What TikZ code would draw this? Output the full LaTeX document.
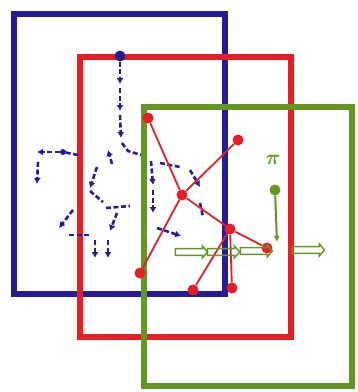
\documentclass[tikz,border=0pt]{standalone}
\usepackage{amsmath}
\usepackage{tikz}
\usetikzlibrary{arrows.meta, shapes.arrows}

\definecolor{inkblue}{RGB}{38,28,150}
\definecolor{inkred}{RGB}{232,30,36}
\definecolor{inkgreen}{RGB}{100,150,35}

\begin{document}
\begin{tikzpicture}[
  x=1pt, y=-1pt,
  frame/.style={line width=6pt, line join=miter},
  dot/.style={circle, fill=#1, inner sep=0pt, minimum size=11pt},
  scrib/.style={inkblue, line width=2.6pt, dash pattern=on 5pt off 2.5pt},
  scribarrow/.style={scrib, -{Latex[length=6pt, width=7pt]}},
  edge/.style={inkred, line width=1.8pt},
  hollow/.style={single arrow, draw=inkgreen, line width=1.4pt, inner xsep=0pt,
                 inner ysep=2.6pt, minimum height=32pt, minimum width=12pt,
                 single arrow head extend=2.5pt, single arrow tip angle=100},
]
\useasboundingbox (0,0) rectangle (358,392);

% Frames
\draw[frame, inkblue] (14,14) rectangle (225,294);
\draw[frame, inkred] (80,57) rectangle (291,337);
\draw[frame, inkgreen] (144,107) rectangle (352,386);

% Blue scribble tree
\node[dot=inkblue] (root) at (120,56) {};
\draw[scribarrow] (root) -- (120,84);
\draw[scribarrow] (120,88) -- (120,111);
\draw[scribarrow] (120,115) -- (121,138);
\draw[scrib] (122,143) -- (128,151) -- (141,155);
\draw[scribarrow] (151,161) -- (153,185);
\draw[scribarrow] (153,190) -- (153,213);
\draw[scribarrow] (157,228) -- (181,236);
\draw[scrib] (160,163) -- (180,167);
\draw[scribarrow] (190,170) -- (200,187);
\draw[scrib] (200,203) -- (203,217);
\draw[scrib] (78,155) -- (63,152);
\node[dot=inkblue, minimum size=6pt] (knot) at (63,152) {};
\draw[scribarrow] (knot) -- (37,152);
\draw[scribarrow] (38,162) -- (37,184);
\draw[scribarrow] (112,164) -- (108,150);
\draw[scribarrow] (97,167) -- (90,188);
\draw[scrib] (90,191) -- (103,202);
\draw[scribarrow] (73,210) -- (59,228);
\draw[scrib] (106,208) -- (130,206);
\draw[scribarrow] (117,213) -- (110,231);
\draw[scrib] (69,235) -- (90,235);
\draw[scribarrow] (95,240) -- (95,258);
\draw[scribarrow] (108,240) -- (108,258);

% Red graph
\node[dot=inkred] (hub) at (182,195) {};
\node[dot=inkred] (ul) at (148,118) {};
\node[dot=inkred] (ur) at (238,140) {};
\node[dot=inkred] (mid) at (230,229) {};
\node[dot=inkred] (far) at (267,248) {};
\node[dot=inkred] (ll) at (140,273) {};
\node[dot=inkred] (bl) at (193,290) {};
\node[dot=inkred] (br) at (232,288) {};
\draw[edge] (ul) -- (hub);
\draw[edge] (ur) -- (hub);
\draw[edge] (hub) -- (mid);
\draw[edge] (mid) -- (far);
\draw[edge] (hub) -- (ll);
\draw[edge] (mid) -- (bl);
\draw[edge] (mid) -- (br);

% Green policy
\node[inkgreen, font=\huge] (pi) at (273,160) {$\boldsymbol{\pi}$};
\node[dot=inkgreen] (gdot) at (275,190) {};
\draw[inkgreen, line width=2pt, -{Latex[length=6pt, width=6pt]}] (gdot) -- (277,242);
\node[hollow] (h1) at (190,252) {};
\node[hollow] (h2) at (222,252) {};
\node[hollow] (h3) at (255,251) {};
\node[hollow] (h4) at (307,250) {};

\end{tikzpicture}
\end{document}
